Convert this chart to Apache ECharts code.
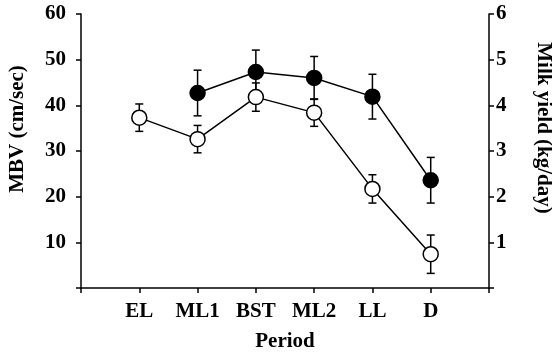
<!DOCTYPE html>
<html>
<head>
<meta charset="utf-8">
<script src="https://cdn.jsdelivr.net/npm/echarts@6/dist/echarts.min.js"></script>
<style>
html, body { margin: 0; padding: 0; background: #fff; }
#chart { width: 552px; height: 357px; }
</style>
</head>
<body>
<div id="chart"></div>
<script>
var periods = ['EL', 'ML1', 'BST', 'ML2', 'LL', 'D'];
// open circles, left axis (cm/sec)
var mbv = [37.3, 32.6, 41.8, 38.4, 21.7, 7.4];
var mbvErr = [3.0, 3.0, 3.1, 3.0, 3.1, 4.2];
// filled circles, right axis (kg/day); null = no value for EL
var milk = [null, 4.27, 4.73, 4.60, 4.19, 2.36];
var milkErr = [null, 0.50, 0.48, 0.47, 0.49, 0.50];

var font = 'Liberation Serif';
var fs = 21;

function toPoints(vals) {
    var out = [];
    for (var i = 0; i < vals.length; i++) {
        if (vals[i] !== null) out.push([i + 1, vals[i]]);
    }
    return out;
}
function toBars(vals, errs) {
    var out = [];
    for (var i = 0; i < vals.length; i++) {
        if (vals[i] !== null) out.push([i + 1, vals[i] - errs[i], vals[i] + errs[i]]);
    }
    return out;
}
function errorBar(params, api) {
    var lo = api.coord([api.value(0), api.value(1)]);
    var hi = api.coord([api.value(0), api.value(2)]);
    var w = 4;
    var st = { stroke: '#000', lineWidth: 1.5 };
    return {
        type: 'group',
        children: [
            { type: 'line', shape: { x1: lo[0], y1: lo[1], x2: hi[0], y2: hi[1] }, style: st },
            { type: 'line', shape: { x1: lo[0] - w, y1: lo[1], x2: lo[0] + w, y2: lo[1] }, style: st },
            { type: 'line', shape: { x1: hi[0] - w, y1: hi[1], x2: hi[0] + w, y2: hi[1] }, style: st }
        ]
    };
}

var textStyle = { color: '#000', fontFamily: font, fontWeight: 'bold', fontSize: fs };
var lineStyle = { color: '#000', width: 1.5 };

var chart = echarts.init(document.getElementById('chart'));
chart.setOption({
    animation: false,
    backgroundColor: '#fff',
    grid: { left: 81, right: 63, top: 14, bottom: 69 },
    graphic: [{
        type: 'text',
        x: 18, y: 129,
        rotation: Math.PI / 2,
        style: { text: 'MBV (cm/sec)', fill: '#000', font: 'bold ' + fs + 'px ' + font, align: 'center', verticalAlign: 'middle' }
    }, {
        type: 'text',
        x: 543, y: 128,
        rotation: -Math.PI / 2,
        style: { text: 'Milk yield (kg/day)', fill: '#000', font: 'bold ' + fs + 'px ' + font, align: 'center', verticalAlign: 'middle' }
    }],
    xAxis: {
        type: 'value',
        min: 0, max: 7, interval: 1,
        name: 'Period',
        nameLocation: 'middle',
        nameGap: 43,
        nameTextStyle: textStyle,
        axisLine: { lineStyle: lineStyle },
        axisTick: { length: 5, lineStyle: lineStyle },
        splitLine: { show: false },
        axisLabel: {
            margin: 13,
            color: '#000', fontFamily: font, fontWeight: 'bold', fontSize: fs,
            formatter: function (v) { return periods[v - 1] || ''; }
        }
    },
    yAxis: [{
        type: 'value',
        min: 0, max: 60, interval: 10,
        axisLine: { show: true, lineStyle: lineStyle },
        axisTick: { show: true, length: 5, lineStyle: lineStyle },
        splitLine: { show: false },
        axisLabel: {
            margin: 15,
            color: '#000', fontFamily: font, fontWeight: 'bold', fontSize: fs,
            formatter: function (v) { return v === 0 ? '' : v; }
        }
    }, {
        type: 'value',
        min: 0, max: 6, interval: 1,
        position: 'right',
        axisLine: { show: true, lineStyle: lineStyle },
        axisTick: { show: true, length: 5, lineStyle: lineStyle },
        splitLine: { show: false },
        axisLabel: {
            margin: 7,
            color: '#000', fontFamily: font, fontWeight: 'bold', fontSize: fs,
            formatter: function (v) { return v === 0 ? '' : v; }
        }
    }],
    series: [{
        type: 'custom',
        yAxisIndex: 0,
        renderItem: errorBar,
        data: toBars(mbv, mbvErr),
        z: 1
    }, {
        type: 'custom',
        yAxisIndex: 1,
        renderItem: errorBar,
        data: toBars(milk, milkErr),
        z: 1
    }, {
        type: 'line',
        yAxisIndex: 1,
        data: toPoints(milk),
        symbol: 'circle',
        symbolSize: 15,
        lineStyle: lineStyle,
        itemStyle: { color: '#000', borderColor: '#000', borderWidth: 1.5 },
        z: 2
    }, {
        type: 'line',
        yAxisIndex: 0,
        data: toPoints(mbv),
        symbol: 'circle',
        symbolSize: 15,
        lineStyle: lineStyle,
        itemStyle: { color: '#fff', borderColor: '#000', borderWidth: 1.5 },
        z: 3
    }]
});
</script>
</body>
</html>
